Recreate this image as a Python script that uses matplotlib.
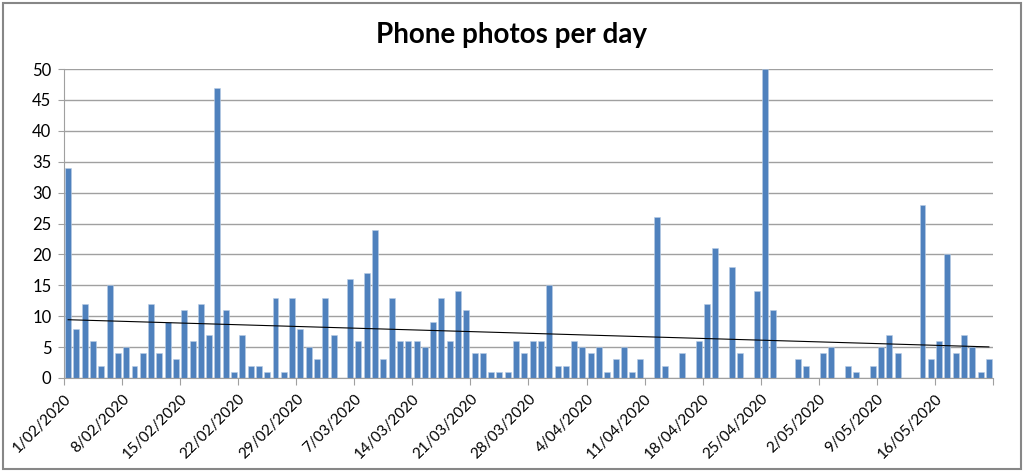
import numpy as np
import pandas as pd
import matplotlib
matplotlib.use('Agg')
import matplotlib.pyplot as plt
from matplotlib.patches import Rectangle

plt.rcParams['font.family'] = ['Lato', 'DejaVu Sans']

start_date = '2020-02-01'
photos = [34, 8, 12, 6, 2, 15, 4, 5, 2, 4, 12, 4, 9, 3, 11, 6, 12, 7, 47, 11,
          1, 7, 2, 2, 1, 13, 1, 13, 8, 5, 3, 13, 7, 0, 16, 6, 17, 24, 3, 13,
          6, 6, 6, 5, 9, 13, 6, 14, 11, 4, 4, 1, 1, 1, 6, 4, 6, 6, 15, 2,
          2, 6, 5, 4, 5, 1, 3, 5, 1, 3, 0, 26, 2, 0, 4, 0, 6, 12, 21, 0,
          18, 4, 0, 14, 50, 11, 0, 0, 3, 2, 0, 4, 5, 0, 2, 1, 0, 2, 5, 7,
          4, 0, 0, 28, 3, 6, 20, 4, 7, 5, 1, 3]
tick_labels = ['1/02/2020', '8/02/2020', '15/02/2020', '22/02/2020', '29/02/2020',
               '7/03/2020', '14/03/2020', '21/03/2020', '28/03/2020', '4/04/2020',
               '11/04/2020', '18/04/2020', '25/04/2020', '2/05/2020', '9/05/2020',
               '16/05/2020']

days = pd.date_range(start_date, periods=len(photos), freq='D')
x = np.arange(len(days))

fig = plt.figure(figsize=(10.24, 4.71), dpi=100)
ax = fig.add_axes([64 / 1024, 1 - 378 / 471, 929 / 1024, 309 / 471])

ax.bar(x, photos, width=0.72, color='#4F81BD', edgecolor='#B9CDE5', linewidth=0.4, zorder=2)

# linear trendline
slope, intercept = np.polyfit(x + 1, photos, 1)
ax.plot([x[0], x[-1]], [slope * 1 + intercept, slope * len(x) + intercept],
        color='black', linewidth=0.8, zorder=3)

ax.set_xlim(-0.5, len(x) - 0.5)
ax.set_ylim(0, 50)
ax.set_yticks(range(0, 51, 5))
ax.yaxis.grid(True, color='#A0A0A0', linewidth=1, zorder=0)
ax.set_axisbelow(True)

tick_pos = np.arange(-0.5, len(x), 7)
ax.set_xticks(tick_pos)
ax.set_xticklabels(tick_labels + [''] * (len(tick_pos) - len(tick_labels)),
                   rotation=45, ha='right', rotation_mode='anchor', fontsize=11)
ax.tick_params(axis='x', length=5, color='#A0A0A0', direction='out', pad=5)
ax.tick_params(axis='y', length=4, color='#A0A0A0', labelsize=12, pad=5)

for side in ['top', 'right']:
    ax.spines[side].set_visible(False)
for side in ['left', 'bottom']:
    ax.spines[side].set_color('#A0A0A0')

fig.text(0.5, 0.925, 'Phone photos per day', ha='center', va='center',
         fontsize=20, fontweight='bold')

fig.patches.append(Rectangle((0.003, 0.004), 0.994, 0.99, transform=fig.transFigure,
                             fill=False, edgecolor='#878787', linewidth=1.5))

fig.savefig('out.png', dpi=100)
